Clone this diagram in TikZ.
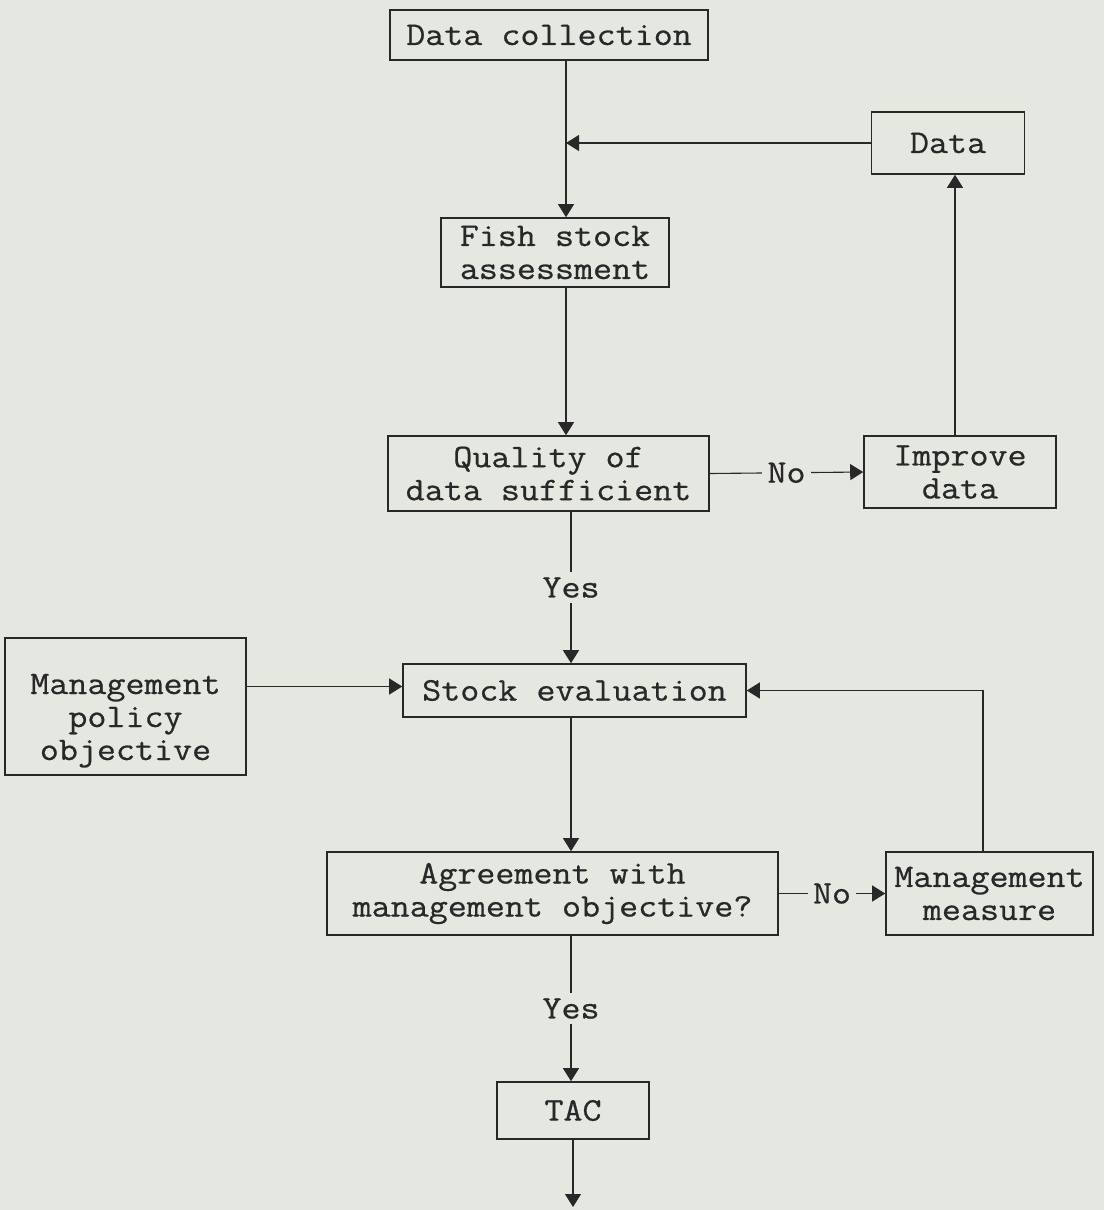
\documentclass[tikz,border=0pt]{standalone}
\usepackage{fontspec}
\setmonofont[FakeBold=0.6,FakeStretch=1.12]{Latin Modern Mono}
\usetikzlibrary{arrows.meta}
\definecolor{paper}{RGB}{229,231,225}
\definecolor{ink}{RGB}{40,40,40}
\begin{document}
\begin{tikzpicture}[x=1pt,y=-1pt,
  txt/.style={text=ink, font=\ttfamily\fontsize{33}{33}\selectfont},
  box/.style={txt, draw=ink, line width=1.6pt, align=center, inner sep=0pt},
  conn/.style={draw=ink, line width=1.1pt},
  arr/.style={conn, -{Triangle[width=16pt,length=13pt]}},
  lbl/.style={txt, fill=paper, inner sep=5pt}]
\fill[paper] (0,0) rectangle (1104,1210);
\useasboundingbox (0,0) rectangle (1104,1210);

\node[box, minimum width=318, minimum height=50] (dc) at (549,35) {Data collection};
\node[box, minimum width=153, minimum height=62] (data) at (948,143) {Data};
\node[box, minimum width=228, minimum height=69] (fs) at (555,252.5) {Fish stock\\assessment};
\node[box, minimum width=321, minimum height=75] (q) at (548.5,473.5) {Quality of\\data sufficient};
\node[box, minimum width=192, minimum height=72] (imp) at (960,472) {Improve\\data};
\node[box, minimum width=241, minimum height=137, text height=112, text depth=5] (mp) at (125.5,706.5) {Management\\policy\\objective};
\node[box, minimum width=343, minimum height=53] (se) at (574.5,690.5) {Stock evaluation};
\node[box, minimum width=451, minimum height=83] (ag) at (552.5,893.5) {Agreement with\\management objective?};
\node[box, minimum width=207, minimum height=83] (mm) at (989.5,893.5) {Management\\measure};
\node[box, minimum width=152, minimum height=57] (tac) at (573,1110.5) {TAC};

\coordinate (sp1) at (566,0);
\coordinate (sp2) at (571,0);
\coordinate (ui) at (955,0);
\coordinate (mmx) at (983,0);
\coordinate (end) at (573,1207);

\draw[arr] (dc.south -| sp1) -- (fs.north -| sp1);
\draw[arr] (data.west) -- (data.west -| sp1);
\draw[arr] (fs.south -| sp1) -- (q.north -| sp1);
\draw[arr] (q.east) -- node[lbl]{No} (imp.west);
\draw[arr] (imp.north -| ui) -- (data.south -| ui);
\draw[arr] (q.south -| sp2) -- node[lbl]{Yes} (se.north -| sp2);
\draw[arr] ([yshift=4pt]mp.east |- se.west) -- ([yshift=4pt]se.west);
\draw[arr] (mm.north -| mmx) |- (se.east);
\draw[arr] (se.south -| sp2) -- (ag.north -| sp2);
\draw[arr] (ag.east) -- node[lbl]{No} (mm.west);
\draw[arr] (ag.south -| sp2) -- node[lbl]{Yes} (tac.north -| sp2);
\draw[arr] (tac.south -| end) -- (end);
\end{tikzpicture}
\end{document}
